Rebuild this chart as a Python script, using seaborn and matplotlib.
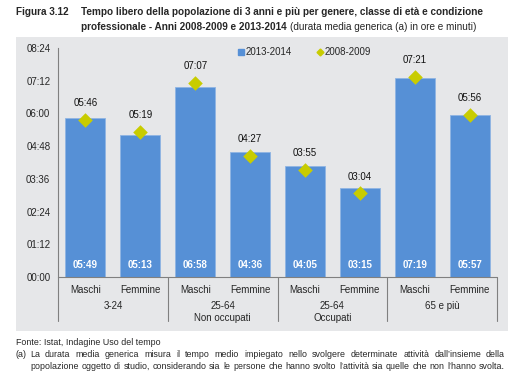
import numpy as np
import pandas as pd
import matplotlib
matplotlib.use("Agg")
import matplotlib.pyplot as plt
import matplotlib.transforms as mtransforms
from matplotlib.lines import Line2D
from matplotlib.patches import Rectangle
import seaborn as sns

# ─── DATA ───────────────────────────────────────────────────────────────────────
sexes = ["Maschi", "Femmine", "Maschi", "Femmine", "Maschi", "Femmine", "Maschi", "Femmine"]
groups = ["3-24", "25-64\nNon occupati", "25-64\nOccupati", "65 e più"]
# minutes
v_2014 = [349, 313, 418, 276, 245, 195, 439, 357]
v_2009 = [346, 319, 427, 267, 235, 184, 441, 356]
yticks_min = [0, 72, 144, 216, 288, 360, 432, 504]

BAR = "#5690D6"
DIAM = "#C8CC00"
PANEL = "#E6E7E9"
W, H = 526, 379


def hhmm(m):
    return f"{m // 60:02d}:{m % 60:02d}"


def justify(fig, x0, x1, y, text, **kw):
    # spread words so the line fills x0..x1 (pixels)
    words = text.split(" ")
    r = fig.canvas.get_renderer()
    widths = []
    for w in words:
        t = fig.text(0, 0, w, **kw)
        widths.append(t.get_window_extent(r).width)
        t.remove()
    gap = (x1 - x0 - sum(widths)) / (len(words) - 1)
    x = x0
    for w, wd in zip(words, widths):
        fig.text(x / W, y, w, **kw)
        x += wd + gap


keys = [f"c{i}" for i in range(len(sexes))]
df = pd.DataFrame({"key": keys, "sex": sexes, "v14": v_2014, "v09": v_2009})

sns.set_style("white")
plt.rcParams["font.family"] = ["Liberation Sans", "DejaVu Sans"]

fig = plt.figure(figsize=(5.26, 3.79), dpi=100)
fig.patches.append(Rectangle((16 / W, 1 - 331 / H), 492 / W, 294 / H,
                             transform=fig.transFigure, facecolor=PANEL,
                             edgecolor="none", zorder=-5))
ax = fig.add_axes([58 / W, 1 - 277 / H, 439 / W, 229 / H])
ax.set_facecolor(PANEL)

sns.barplot(data=df, x="key", y="v14", color=BAR, width=0.73, ax=ax,
            edgecolor="#8FB4E3", linewidth=0.6, saturation=1, zorder=2)
sns.scatterplot(x=np.arange(len(keys)), y=df["v09"], marker="D", s=55,
                color=DIAM, edgecolor=DIAM, linewidth=0, ax=ax, zorder=3)

ax.set_xlim(-0.5, len(keys) - 0.5)
ax.set_ylim(0, 504)
ax.set_yticks(yticks_min)
ax.set_yticklabels([hhmm(t) for t in yticks_min], fontsize=7)
ax.tick_params(axis="y", length=0, pad=5.5)
ax.set_xticks([])
ax.set_xlabel("")
ax.set_ylabel("")
for s in ["top", "right", "bottom"]:
    ax.spines[s].set_visible(False)
ax.spines["left"].set_color("#808080")
ax.spines["left"].set_linewidth(0.8)

for i, (a, b) in enumerate(zip(v_2014, v_2009)):
    ax.annotate(hhmm(b), (i, b), xytext=(0, 8.5), textcoords="offset points",
                ha="center", va="bottom", fontsize=7, color="#111111")
    ax.annotate(hhmm(a), (i, 0), xytext=(0, 8.5), textcoords="offset points",
                ha="center", va="center", fontsize=7, color="white",
                fontweight="bold")

# category axis
tr = mtransforms.blended_transform_factory(ax.transData, ax.transAxes)
ax.plot([-0.5, 7.5], [0, 0], transform=tr, color="#808080", lw=0.8,
        clip_on=False)
for xs in [-0.5, 1.5, 3.5, 5.5, 7.5]:
    ax.plot([xs, xs], [0, -0.192], transform=tr, color="#808080", lw=0.8,
            clip_on=False)
for i, s in enumerate(sexes):
    ax.text(i, -0.055, s, transform=tr, ha="center", va="center", fontsize=7)
for g, lab in enumerate(groups):
    ax.text(2 * g + 0.5, -0.103, lab, transform=tr, ha="center", va="top",
            fontsize=7, linespacing=1.25)

handles = [Line2D([], [], marker="s", ls="", color=BAR, markersize=4),
           Line2D([], [], marker="D", ls="", color=DIAM, markersize=3.5)]
ax.legend(handles, ["2013-2014", "2008-2009"], ncol=2, frameon=False,
          loc="center", bbox_to_anchor=(304 / W, 1 - 52 / H),
          bbox_transform=fig.transFigure, fontsize=7, handletextpad=0.1,
          columnspacing=2.5, handlelength=0.8)

# titles
TFS = 7.2
fig.text(16 / W, 1 - 12 / H, "Figura 3.12", fontsize=TFS, fontweight="bold",
         va="center")
fig.text(81 / W, 1 - 12 / H,
         "Tempo libero della popolazione di 3 anni e più per genere, classe di età e condizione",
         fontsize=TFS, fontweight="bold", va="center")
t2 = fig.text(81 / W, 1 - 27 / H, "professionale - Anni 2008-2009 e 2013-2014",
              fontsize=TFS, fontweight="bold", va="center")
fig.canvas.draw()
bb = t2.get_window_extent()
fig.text((bb.x1 + 3) / W, 1 - 27 / H, "(durata media generica (a) in ore e minuti)",
         fontsize=TFS, va="center")

# footer
FFS = 6.4
fig.text(16 / W, 1 - 345 / H, "Fonte: Istat, Indagine Uso del tempo",
         fontsize=FFS, va="baseline")
fig.text(16 / W, 1 - 357 / H, "(a)", fontsize=FFS, va="baseline")
justify(fig, 30, 505, 1 - 357 / H,
        "La durata media generica misura il tempo medio impiegato nello svolgere determinate attività dall’insieme della",
        fontsize=FFS, va="baseline")
justify(fig, 30, 505, 1 - 369 / H,
        "popolazione oggetto di studio, considerando sia le persone che hanno svolto l’attività sia quelle che non l’hanno svolta.",
        fontsize=FFS, va="baseline")

fig.savefig("out.png", dpi=100)
